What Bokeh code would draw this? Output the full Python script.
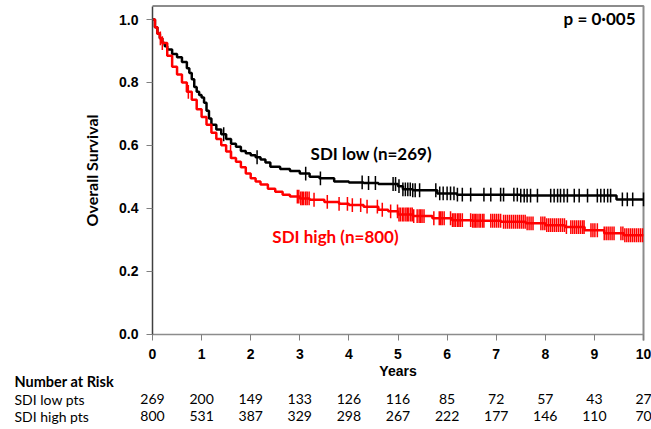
import numpy as np
from bokeh.plotting import figure
from bokeh.models import Label, FixedTicker, PrintfTickFormatter, Range1d, LinearAxis, ColumnDataSource
from bokeh.core.properties import value
from bokeh.embed import file_html
from bokeh.resources import INLINE

# ---- data ----
low_times = [0, 0.05, 0.1, 0.15, 0.2, 0.25, 0.3, 0.4, 0.5, 0.6, 0.7, 0.75, 0.8, 0.85, 0.9, 0.95,
             1.0, 1.05, 1.1, 1.15, 1.2, 1.3, 1.4, 1.5, 1.6, 1.7, 1.8, 1.9, 2.0, 2.1, 2.2, 2.3,
             2.4, 2.6, 2.8, 3.0, 3.2, 3.4, 3.7, 4.0, 4.3, 4.6, 5.0, 5.1, 5.3, 5.8, 6.2, 7.5, 9.45, 10.0]
low_surv = [1.0, 0.975, 0.955, 0.94, 0.925, 0.915, 0.905, 0.89, 0.88, 0.865, 0.845, 0.83, 0.81,
            0.785, 0.77, 0.76, 0.752, 0.735, 0.71, 0.685, 0.665, 0.65, 0.635, 0.62, 0.605, 0.595,
            0.582, 0.575, 0.568, 0.562, 0.555, 0.545, 0.532, 0.525, 0.518, 0.51, 0.50, 0.495,
            0.485, 0.482, 0.48, 0.477, 0.47, 0.46, 0.457, 0.447, 0.443, 0.44, 0.428, 0.428]

high_times = [0, 0.05, 0.1, 0.15, 0.2, 0.3, 0.4, 0.5, 0.6, 0.7, 0.8, 0.9, 1.0, 1.1, 1.2, 1.3,
              1.4, 1.5, 1.6, 1.7, 1.8, 1.9, 2.0, 2.1, 2.2, 2.35, 2.5, 2.65, 2.8, 3.0, 3.2, 3.5,
              3.8, 4.0, 4.3, 4.6, 4.8, 5.0, 5.3, 5.7, 6.1, 6.5, 7.1, 7.6, 8.0, 8.4, 8.8, 9.2, 9.6, 10.0]
high_surv = [1.0, 0.975, 0.955, 0.94, 0.925, 0.885, 0.85, 0.825, 0.8, 0.77, 0.745, 0.715, 0.69,
             0.665, 0.64, 0.62, 0.6, 0.58, 0.56, 0.548, 0.53, 0.51, 0.495, 0.485, 0.475, 0.462,
             0.452, 0.443, 0.437, 0.431, 0.427, 0.42, 0.414, 0.41, 0.405, 0.395, 0.39, 0.38,
             0.375, 0.368, 0.362, 0.36, 0.357, 0.352, 0.346, 0.34, 0.33, 0.32, 0.314, 0.314]

low_censor = [1.45, 2.13, 3.12, 3.42, 4.27, 4.4, 4.54, 4.9, 4.95, 5.02, 5.1, 5.15, 5.2, 5.25,
              5.3, 5.35, 5.44, 5.77, 5.85, 5.92, 6.0, 6.07, 6.14, 6.21, 6.31, 6.48, 6.75, 6.89,
              7.09, 7.15, 7.36, 7.43, 7.5, 7.57, 7.63, 7.7, 7.84, 8.11, 8.18, 8.25, 8.31, 8.38,
              8.45, 8.59, 8.69, 8.86, 9.06, 9.13, 9.2, 9.27, 9.33, 9.57, 9.67, 9.78, 10.0]

high_censor = [0.16, 0.2, 0.73, 1.59, 2.95, 2.98, 3.02, 3.05, 3.08, 3.12, 3.15, 3.19, 3.29, 3.56,
               3.8, 3.97, 4.07, 4.24, 4.37, 4.58, 4.68, 4.85, 4.99, 5.02, 5.05, 5.09, 5.12, 5.16,
               5.19, 5.22, 5.26, 5.29, 5.32, 5.39, 5.43, 5.46, 5.49, 5.53, 5.73, 5.84, 5.87, 5.9,
               5.94, 6.07, 6.11, 6.14, 6.17, 6.21, 6.24, 6.27, 6.31, 6.48, 6.52, 6.55, 6.58, 6.61,
               6.65, 6.68, 6.72, 6.75, 6.89, 6.93, 6.97, 7.01, 7.05, 7.09, 7.15, 7.19, 7.23, 7.27,
               7.31, 7.35, 7.39, 7.43, 7.47, 7.51, 7.55, 7.59, 7.63, 7.67, 7.71, 7.75, 7.91, 7.95,
               7.99, 8.03, 8.07, 8.11, 8.15, 8.19, 8.23, 8.27, 8.31, 8.35, 8.39, 8.43, 8.52, 8.56,
               8.6, 8.64, 8.68, 8.72, 8.76, 8.79, 8.93, 8.97, 9.01, 9.06, 9.2, 9.24, 9.28, 9.32,
               9.36, 9.4, 9.54, 9.58, 9.62, 9.66, 9.7, 9.74, 9.78, 9.82, 9.86, 9.9, 9.94, 9.98]

years = [0, 1, 2, 3, 4, 5, 6, 7, 8, 9, 10]
risk_low = [269, 200, 149, 133, 126, 116, 85, 72, 57, 43, 27]
risk_high = [800, 531, 387, 329, 298, 267, 222, 177, 146, 110, 70]
row_names = ["SDI low pts", "SDI high pts"]

y_ticks = [0.0, 0.2, 0.4, 0.6, 0.8, 1.0]

LOW_COLOR = "#000000"
HIGH_COLOR = "#ff0000"
BOX_COLOR = "#8c8c8c"

# ---- geometry: the frame is the whole canvas; axes are placed with fixed_location ----
W, H = 651, 429
X0_PX, X10_PX = 152, 643          # pixel of year 0 / year 10
Y0_PX, Y1_PX = 333.5, 19.0        # pixel of survival 0 / 1.0
sx = (X10_PX - X0_PX) / 10.0
sy = (Y0_PX - Y1_PX) / 1.0
x_lo, x_hi = -X0_PX / sx, (W - X0_PX) / sx
y_lo, y_hi = -(H - Y0_PX) / sy, Y0_PX / sy
Y_TOP = (Y0_PX - 5.5) / sy        # top border of the plotting box

def ydata(py):
    return (Y0_PX - py) / sy

def xdata(px):
    return (px - X0_PX) / sx

p = figure(width=W, height=H, output_backend="svg", toolbar_location=None, title=None,
           x_range=Range1d(x_lo, x_hi), y_range=Range1d(y_lo, y_hi),
           x_axis_type=None, y_axis_type=None,
           min_border_left=0, min_border_right=0, min_border_top=0, min_border_bottom=0)
p.grid.visible = False
p.outline_line_color = None
p.background_fill_color = "white"
p.border_fill_color = "white"

def style_ticks(ax):
    ax.major_tick_line_color = "#7f7f7f"
    ax.major_tick_out = 6
    ax.major_tick_in = 0
    ax.minor_tick_line_color = None
    ax.major_label_text_font = "Liberation Sans"
    ax.major_label_text_font_style = "bold"
    ax.major_label_text_font_size = "14px"
    ax.major_label_text_color = "#000000"

x_min, x_max = years[0], years[-1]

# x axis
xax = LinearAxis(fixed_location=0, bounds=(x_min, x_max), ticker=FixedTicker(ticks=years))
style_ticks(xax)
xax.axis_line_color = "#8c8c8c"
xax.axis_line_width = 1.5
xax.major_label_standoff = 9
xax.axis_label = "Years"
xax.axis_label_text_font = "Liberation Sans"
xax.axis_label_text_font_style = "bold"
xax.axis_label_text_font_size = "14px"
xax.axis_label_text_color = "#000000"
xax.axis_label_standoff = 0
p.add_layout(xax, "below")

# y axis
yax = LinearAxis(fixed_location=0, bounds=(0, Y_TOP), ticker=FixedTicker(ticks=y_ticks),
                 formatter=PrintfTickFormatter(format="%.1f"))
style_ticks(yax)
yax.axis_line_color = "#404040"
yax.axis_line_width = 1.5
yax.major_label_standoff = 8
yax.axis_label = "Overall Survival"
yax.axis_label_text_font = "Lato"
yax.axis_label_text_font_style = "bold"
yax.axis_label_text_font_size = "16px"
yax.axis_label_text_color = "#000000"
yax.axis_label_standoff = 15
p.add_layout(yax, "left")

# ---- plotting box: top and right edges, drawn as one polyline from a data source ----
box_src = ColumnDataSource(data=dict(x=[x_min, x_max, x_max], y=[Y_TOP, Y_TOP, ydata(340)]))
p.line(x="x", y="y", source=box_src, line_color=BOX_COLOR, line_width=2)

# ---- KM curves with censor ticks ----
def step_value(times, surv, c):
    i = int(np.searchsorted(times, c, side="right")) - 1
    return surv[max(i, 0)]

for times, surv, cens, col in [(low_times, low_surv, low_censor, LOW_COLOR),
                               (high_times, high_surv, high_censor, HIGH_COLOR)]:
    p.step(times, surv, mode="after", line_color=col, line_width=2.5)
    cy = [step_value(times, surv, c) for c in cens]
    p.segment(x0=cens, x1=cens, y0=[v - 0.022 for v in cy], y1=[v + 0.022 for v in cy],
              line_color=col, line_width=1.5)

# ---- annotations ----
p.add_layout(Label(x=3.22, y=0.575, text="SDI low (n=269)", text_font="Lato",
                   text_font_style="bold", text_font_size="17px", text_color=LOW_COLOR,
                   text_baseline="middle"))
p.add_layout(Label(x=2.44, y=0.31, text="SDI high (n=800)", text_font="Lato",
                   text_font_style="bold", text_font_size="17px", text_color=HIGH_COLOR,
                   text_baseline="middle"))
p.add_layout(Label(x=xdata(635), y=ydata(18), text="p = 0\u00b7005", text_font="Lato",
                   text_font_style="bold", text_font_size="17px", text_color="#000000",
                   text_align="right", text_baseline="middle"))

# ---- number-at-risk table ----
x_left = xdata(14)
y_head, y_row1, y_row2 = ydata(380.5), ydata(398.5), ydata(415.5)
p.text(x=[x_left], y=[y_head], text=["Number at Risk"], text_font=value("Lato"),
       text_font_style="bold", text_font_size="14.5px", text_align="left",
       text_baseline="middle", text_color="#000000")
p.text(x=[x_left, x_left], y=[y_row1, y_row2], text=row_names, text_font=value("Lato"),
       text_font_size="14px", text_align="left", text_baseline="middle", text_color="#000000")
p.text(x=years, y=[y_row1] * len(years), text=[str(v) for v in risk_low], text_font=value("Lato"),
       text_font_size="14px", text_align="center", text_baseline="middle", text_color="#000000")
p.text(x=years, y=[y_row2] * len(years), text=[str(v) for v in risk_high], text_font=value("Lato"),
       text_font_size="14px", text_align="center", text_baseline="middle", text_color="#000000")

open("out.html", "w").write(file_html(p, INLINE))
